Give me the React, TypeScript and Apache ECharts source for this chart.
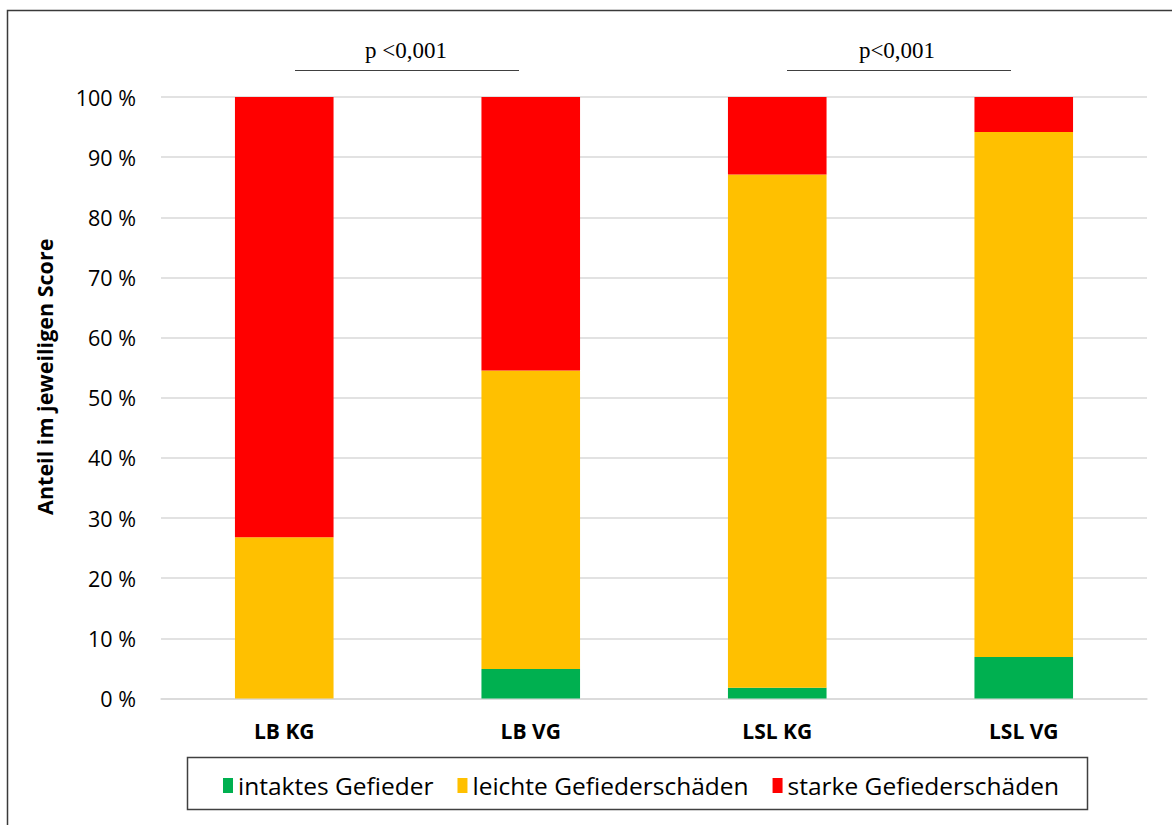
import React, { useEffect, useRef } from "react";
import * as echarts from "echarts";

const categories = ["LB KG", "LB VG", "LSL KG", "LSL VG"];
const intakt = [0, 4.9, 1.8, 6.9];
const leicht = [26.8, 49.65, 85.3, 87.3];
const stark = [73.2, 45.45, 12.9, 5.8];
const seriesNames = ["intaktes Gefieder", "leichte Gefiederschäden", "starke Gefiederschäden"];
const colors = ["#00B050", "#FFC000", "#FF0000"];
const yTicks = [0, 10, 20, 30, 40, 50, 60, 70, 80, 90, 100];
const pLabels = ["p <0,001", "p<0,001"];

export default function App() {
  const ref = useRef<HTMLDivElement>(null);
  useEffect(() => {
    if (!ref.current) return;
    const chart = echarts.init(ref.current, null, { renderer: "svg" });
    const sans = "Open Sans";
    const data = [intakt, leicht, stark];
    chart.setOption({
      animation: false,
      grid: { left: 161, right: 25, top: 97, bottom: 126.5 },
      xAxis: {
        type: "category",
        data: categories,
        axisLine: { lineStyle: { color: "#d9d9d9", width: 1.5 } },
        axisTick: { show: false },
        axisLabel: { fontFamily: sans, fontSize: 21, fontWeight: "bold", color: "#000", margin: 22 },
      },
      yAxis: {
        type: "value",
        min: yTicks[0],
        max: yTicks[yTicks.length - 1],
        interval: 10,
        axisLine: { show: false },
        axisTick: { show: false },
        splitLine: { lineStyle: { color: "#d9d9d9", width: 1.5 } },
        axisLabel: { fontFamily: sans, fontSize: 21.5, color: "#000", margin: 25, formatter: (v: number) => `${v} %` },
        name: "Anteil im jeweiligen Score",
        nameLocation: "middle",
        nameGap: 106,
        nameTextStyle: { fontFamily: sans, fontSize: 21.5, fontWeight: "bold", color: "#000", padding: [0, 0, 0, 42] },
      },
      legend: {
        data: seriesNames,
        left: 218,
        top: 768,
        itemWidth: 10,
        itemHeight: 15,
        itemGap: 24,
        icon: "rect",
        textStyle: { fontFamily: sans, fontSize: 24.5, color: "#000" },
      },
      series: seriesNames.map((name, i) => ({
        name,
        type: "bar",
        stack: "total",
        barWidth: "40%",
        itemStyle: { color: colors[i] },
        data: data[i],
      })),
      graphic: [
        { type: "rect", shape: { x: 7.5, y: 10.5, width: 1300, height: 1000 }, style: { fill: "none", stroke: "#3a3a3a", lineWidth: 1.5 }, silent: true },
        { type: "rect", shape: { x: 187.5, y: 757.5, width: 900, height: 52 }, style: { fill: "none", stroke: "#404040", lineWidth: 1.5 }, silent: true },
        { type: "text", x: 406, y: 50, style: { text: pLabels[0], font: '23px "Liberation Serif"', fill: "#000", textAlign: "center", textVerticalAlign: "middle" } },
        { type: "line", shape: { x1: 295, y1: 70.5, x2: 519, y2: 70.5 }, style: { stroke: "#404040", lineWidth: 1 } },
        { type: "text", x: 897, y: 50, style: { text: pLabels[1], font: '23px "Liberation Serif"', fill: "#000", textAlign: "center", textVerticalAlign: "middle" } },
        { type: "line", shape: { x1: 787, y1: 70.5, x2: 1011, y2: 70.5 }, style: { stroke: "#404040", lineWidth: 1 } },
      ],
    });
    return () => chart.dispose();
  }, []);
  return <div ref={ref} style={{ position: "fixed", left: 0, top: 0, width: 1172, height: 825, background: "#fff" }} />;
}
